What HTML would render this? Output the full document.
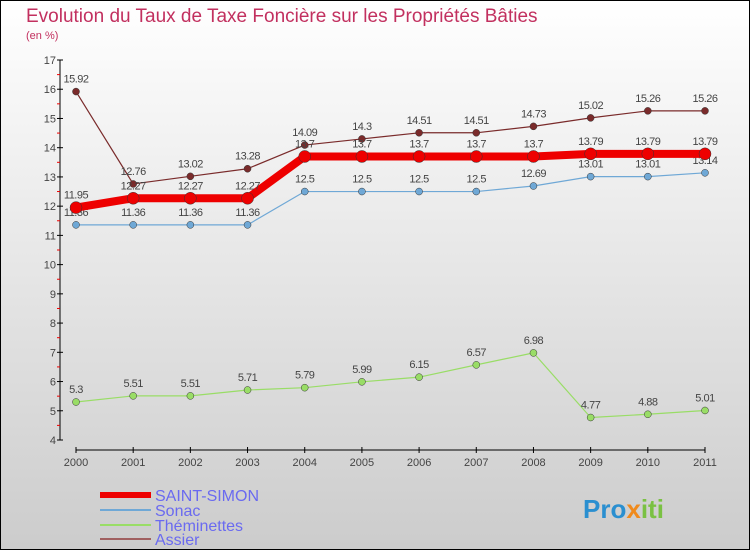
<!DOCTYPE html>
<html><head><meta charset="utf-8"><style>
body{margin:0}
svg{display:block;font-family:"Liberation Sans",sans-serif}
</style></head><body>
<svg id="c" width="750" height="550" xmlns="http://www.w3.org/2000/svg">
<defs><linearGradient id="bg" x1="0" y1="0" x2="0" y2="1"><stop offset="0" stop-color="#ffffff"/><stop offset="1" stop-color="#cccccc"/></linearGradient></defs>
<rect x="0.5" y="0.5" width="749" height="549" fill="url(#bg)" stroke="#000"/>
<text x="26" y="22" font-size="19" fill="#c2305f">Evolution du Taux de Taxe Foncière sur les Propriétés Bâties</text>
<text x="26" y="39" font-size="11" fill="#c2305f">(en %)</text>
<g id="axes"></g><g id="series"></g><g id="legend"></g>
<text x="583" y="518" font-size="26" font-weight="bold" fill="#2a8fd0">Pro<tspan fill="#f08a1c">x</tspan><tspan fill="#7ac143">iti</tspan></text>
</svg>
<script>
const years=["2000","2001","2002","2003","2004","2005","2006","2007","2008","2009","2010","2011"];
const yTicks=[4,5,6,7,8,9,10,11,12,13,14,15,16,17];
const saintSimon=[11.95,12.27,12.27,12.27,13.7,13.7,13.7,13.7,13.7,13.79,13.79,13.79];
const sonac=[11.36,11.36,11.36,11.36,12.5,12.5,12.5,12.5,12.69,13.01,13.01,13.14];
const theminettes=[5.3,5.51,5.51,5.71,5.79,5.99,6.15,6.57,6.98,4.77,4.88,5.01];
const assier=[15.92,12.76,13.02,13.28,14.09,14.3,14.51,14.51,14.73,15.02,15.26,15.26];
const NS="http://www.w3.org/2000/svg";
function X(i){return 76+i*(705-76)/11;}
function Y(v){return 440-(v-4)*(380/13);}
function mk(t,a,p){const e=document.createElementNS(NS,t);for(const k in a)e.setAttribute(k,a[k]);if(p)p.appendChild(e);return e;}
const ax=document.getElementById('axes');
let l=mk('line',{x1:60,y1:60,x2:60,y2:440,stroke:'#000'},ax);


yTicks.forEach((v,i)=>{
 mk('line',{x1:57,y1:Y(v),x2:63,y2:Y(v),stroke:'#000'},ax);
 if(i<yTicks.length-1)mk('line',{x1:57,y1:Y(v+0.5),x2:60,y2:Y(v+0.5),stroke:'#e00'},ax);
 const t=mk('text',{x:56,y:Y(v)+4,'font-size':11,fill:'#444','text-anchor':'end'},ax);t.textContent=v;
 
 
});
l=mk('line',{x1:76,y1:450,x2:705,y2:450,stroke:'#000'},ax);


years.forEach((y,i)=>{
 mk('line',{x1:X(i),y1:447,x2:X(i),y2:453,stroke:'#000'},ax);
 const t=mk('text',{x:X(i),y:466,'font-size':11,fill:'#444','text-anchor':'middle'},ax);t.textContent=y;
 
 
});
const sg=document.getElementById('series');
function draw(vals,color,w,r,name,dy){
 const g=mk('g',{},sg);
 
 
 mk('polyline',{points:vals.map((v,i)=>X(i)+','+Y(v)).join(' '),fill:'none',stroke:color,'stroke-width':w,'stroke-linejoin':'round'},g);
 vals.forEach((v,i)=>{
  const c=mk('circle',{cx:X(i),cy:Y(v),r:r,fill:color,stroke:'#333','stroke-width':0.5},g);
  
  
  const t=mk('text',{x:X(i),y:Y(v)+dy,'font-size':11,fill:'#444','text-anchor':'middle','letter-spacing':'-0.5'},g);
  t.textContent=String(v);
  
  
 });
}
draw(theminettes,'#99dd66',1.2,3.5,'theminettes',-9);
draw(sonac,'#6fa8d6',1.2,3.5,'sonac',-9);
draw(assier,'#7a2b2b',1.2,3.5,'assier',-9);
draw(saintSimon,'#ee0000',8,6,'saint-simon',-9);
const lg=document.getElementById('legend');
const items=[["SAINT-SIMON","#ee0000",6,495],["Sonac","#6fa8d6",2,510],["Théminettes","#99dd66",2,525],["Assier","#a06060",2,539]];
items.forEach(it=>{
 const g=mk('g',{},lg);
 
 
 mk('line',{x1:100,y1:it[3],x2:151,y2:it[3],stroke:it[1],'stroke-width':it[2]},g);
 const t=mk('text',{x:155,y:it[3]+6,'font-size':16,fill:'#6a6af0'},g);t.textContent=it[0];
});
</script>
</body></html>
